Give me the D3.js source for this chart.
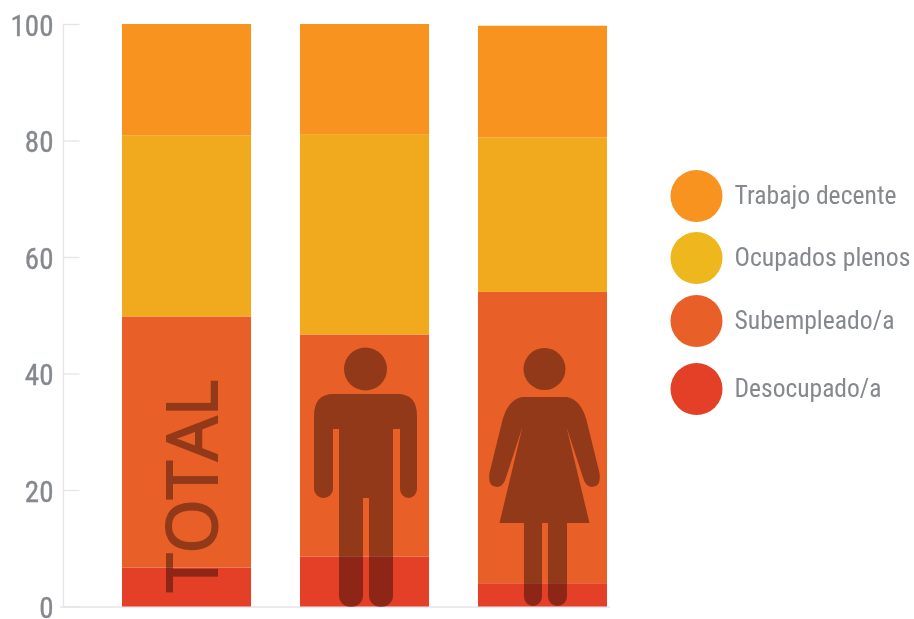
<!DOCTYPE html>
<html><head><meta charset="utf-8">
<script src="https://cdn.jsdelivr.net/npm/d3@7/dist/d3.min.js"></script>
<style>html,body{margin:0;background:#fff}svg{display:block;filter:blur(0.55px)}</style></head>
<body><svg id="c" width="914" height="619"></svg>
<script>
const groups = ["Total","Hombres","Mujeres"];
const seriesNames = ["Desocupado/a","Subempleado/a","Ocupados plenos","Trabajo decente"];
const desocupado = [6.7,8.6,4.0];
const subempleado = [43.1,38.1,50.0];
const ocupados = [31.1,34.4,26.5];
const decente = [19.1,18.9,19.2];
const yTicks = [0,20,40,60,80,100];
const barColors = ["#e34027","#e85f28","#f1a91e","#f7931e"];
const legendNames = ["Trabajo decente","Ocupados plenos","Subempleado/a","Desocupado/a"];
const legendColors = ["#f7931e","#efb71e","#e85f28","#e34027"];
const legendRows = [196,258,321,389];
const legendWidths = [162,176,160,147];

const font = "'Liberation Sans Narrow','Roboto Condensed','Liberation Sans',sans-serif";
const svg = d3.select("#c");
const y = d3.scaleLinear().domain([0,100]).range([606.5,24]);
const x = d3.scaleBand().domain(groups).range([122,607]).paddingInner(0.275).paddingOuter(0);

const rows = groups.map((g,i)=>({g,[seriesNames[0]]:desocupado[i],[seriesNames[1]]:subempleado[i],[seriesNames[2]]:ocupados[i],[seriesNames[3]]:decente[i]}));
const stacked = d3.stack().keys(seriesNames)(rows);

// axis
const axis = svg.append("g").attr("transform","translate(63.5,0)")
  .call(d3.axisLeft(y).tickValues(yTicks).tickSize(-16).tickPadding(10));
axis.select(".domain").attr("d",`M0,${y(100)}V${y(0)}`).attr("stroke","#e4e5e7").attr("stroke-width",1.3);
axis.selectAll(".tick line").attr("stroke","#e4e5e7").attr("stroke-width",1.3);
axis.selectAll(".tick text").attr("font-family",font).attr("font-size",29).attr("fill","#85888c")
  .attr("stroke","#85888c").attr("stroke-width",0.35).attr("dy","0.38em");
svg.append("line").attr("x1",60).attr("x2",610).attr("y1",y(0)+0.5).attr("y2",y(0)+0.5).attr("stroke","#e4e5e7").attr("stroke-width",1.3);

// bars
svg.append("g").selectAll("g").data(stacked).join("g").attr("fill",(d,i)=>barColors[i])
  .selectAll("rect").data(d=>d).join("rect")
  .attr("x",d=>x(d.data.g)).attr("width",x.bandwidth())
  .attr("y",d=>y(d[1])).attr("height",d=>y(d[0])-y(d[1]));

// overlays
const ink = "#110200", inkA = 0.4;
const over = svg.append("g").attr("fill",ink).attr("opacity",inkA);
over.append("text").text("TOTAL").attr("transform","translate(217,592) rotate(-90)")
  .attr("font-family","'Open Sans','Liberation Sans',sans-serif").attr("font-size",70)
  .attr("stroke",ink).attr("stroke-width",2)
  .attr("textLength",212).attr("lengthAdjust","spacingAndGlyphs");

const cxMan = x("Hombres")+x.bandwidth()/2, cxWoman = x("Mujeres")+x.bandwidth()/2;
// man pictogram, local coordinates centred on the figure's axis
const man = over.append("g").attr("transform",`translate(${cxMan+1},0)`);
man.append("circle").attr("cy",369).attr("r",21.5);
man.append("path").attr("d",`M-32,394 H32 Q51.5,394 51.5,416 V489 A8.5,9 0 0 1 34.5,489 V429 H27.5 V596
 A12,11 0 0 1 3.5,596 V498 H-2.5 V596 A12,11 0 0 1 -26.5,596 V429 H-32.5 V489 A9.5,9 0 0 1 -51.5,489 V416 Q-51.5,394 -32,394 Z`);
// woman pictogram
const woman = over.append("g").attr("transform",`translate(${cxWoman+2},0)`);
woman.append("circle").attr("cy",369).attr("r",21);
woman.append("path").attr("d",`M-22,397 H22 Q36,399 42,420 L55,473 Q57,487 47,487 Q41,487 38,476 L22,427 L45,523 H22.5 V597 A9.5,9 0 0 1 3.5,597 V523 H-2.5 V597 A9,9 0 0 1 -20.5,597 V523 H-45 L-22,427 L-38,476 Q-41,487 -47,487 Q-57,487 -55,473 L-42,420 Q-36,399 -22,397 Z`);

// legend
const lg = svg.append("g").selectAll("g").data(legendNames).join("g")
  .attr("transform",(d,i)=>`translate(696.5,${legendRows[i]})`);
lg.append("circle").attr("r",26).attr("fill",(d,i)=>legendColors[i]);
lg.append("text").text(d=>d).attr("x",38).attr("dy","0.3em")
  .attr("font-family",font).attr("font-size",26).attr("fill","#85888c")
  .attr("textLength",(d,i)=>legendWidths[i]).attr("lengthAdjust","spacingAndGlyphs");
</script></body></html>
